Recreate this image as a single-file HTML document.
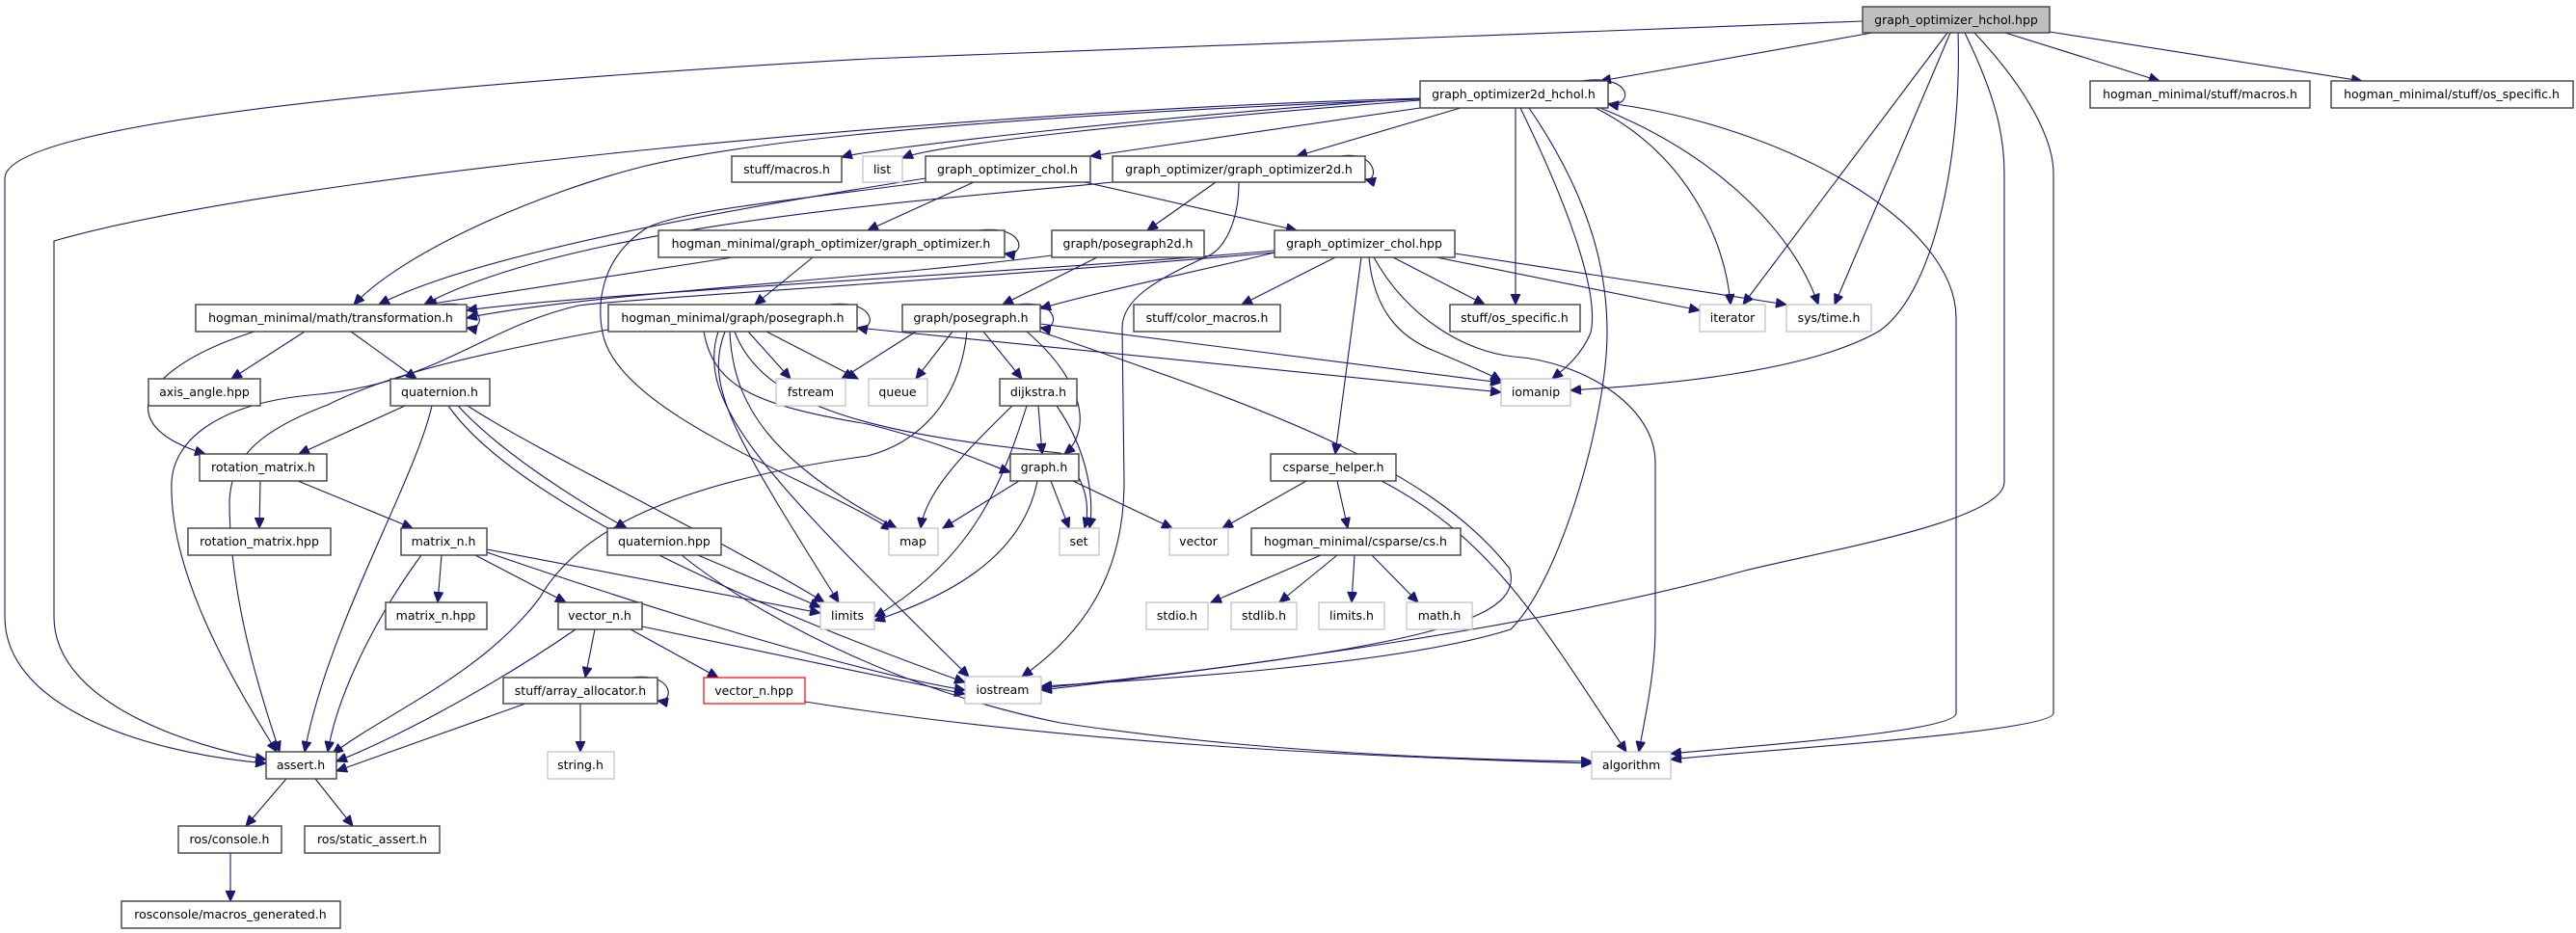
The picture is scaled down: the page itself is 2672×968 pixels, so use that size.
<!DOCTYPE html>
<html><head><meta charset="utf-8"><style>
html,body{margin:0;padding:0;background:#fff;}
svg{display:block}
text{font-family:"DejaVu Sans","Liberation Sans",sans-serif;font-size:12.5px;fill:#000}
.e{fill:none;stroke:#191970;stroke-width:1.1}
.n{fill:#fff;stroke:#404040;stroke-width:1.4}
.g{fill:#fff;stroke:#bfbfbf;stroke-width:1.2}
.r{fill:#fff;stroke:#ff0000;stroke-width:1.2}
</style></head><body>
<svg width="2672" height="968" viewBox="0 0 2672 968" xmlns="http://www.w3.org/2000/svg">
<defs><marker id="a" markerUnits="userSpaceOnUse" markerWidth="12" markerHeight="10" refX="11" refY="5" orient="auto"><path d="M0,0 L11,5 L0,10 z" fill="#191970" stroke="#191970"/></marker></defs>
<g class="e" marker-end="url(#a)">
<!-- hchol.hpp -->
<path d="M1932,22 L900,61 C400,90 5,130 5,185 L5,640 C5,730 140,780 276,792"/>
<path d="M1942,34 L1660,84"/>
<path d="M2080,34 L2240,84"/>
<path d="M2126,33 L2450,84"/>
<path d="M2020,34 L1808,316"/>
<path d="M2023,34 L1903,316"/>
<path d="M2031,34 C2035,150 2010,300 1950,343 C1870,390 1700,400 1629,405"/>
<path d="M2038,34 C2070,100 2079,140 2079,180 L2079,500 C2079,540 1900,570 1810,592 C1600,650 1300,690 1080,716"/>
<path d="M2048,34 C2110,100 2130,150 2130,180 L2130,740 C2130,760 1800,780 1733,788"/>
<!-- 2d_hchol -->
<path d="M1640,84 C1695,76 1695,112 1668,108"/>
<path d="M1473,102 C1200,120 900,155 873,163"/>
<path d="M1473,104 C1200,125 970,150 936,164"/>
<path d="M1473,112 L1131,162"/>
<path d="M1515,112 L1345,162"/>
<path d="M1473,103 C1100,118 800,140 666,173 C560,200 420,260 367,316"/>
<path d="M1473,102 C1000,115 300,180 56,250 L56,640 C56,730 200,775 276,788"/>
<path d="M1572,112 L1572,316"/>
<path d="M1655,112 C1750,160 1790,250 1795,316"/>
<path d="M1660,112 C1780,160 1860,240 1886,316"/>
<path d="M1577,112 C1620,200 1660,300 1650,345 C1640,370 1620,385 1610,393"/>
<path d="M1586,112 C1660,220 1667,300 1667,345 C1667,430 1620,600 1567,653 C1450,690 1200,705 1080,712"/>
<path d="M1668,107 C1850,130 2029,230 2029,330 L2029,740 C2029,760 1800,775 1733,782"/>
<!-- chol.h -->
<path d="M1010,189 L900,239"/>
<path d="M1125,189 L1345,239"/>
<path d="M960,185 C800,210 500,260 393,316"/>
<path d="M960,189 C800,210 700,220 670,237 C620,270 620,320 625,345 C640,430 850,500 925,550"/>
<!-- 2d.h -->
<path d="M1390,162 C1430,156 1430,190 1416,186"/>
<path d="M1261,189 L1190,239"/>
<path d="M1285,189 C1285,230 1270,260 1250,267 C1200,290 1164,310 1164,340 L1166,500 C1166,600 1120,660 1060,702"/>
<path d="M1154,189 C1000,205 600,230 440,316"/>
<!-- graph_optimizer.h -->
<path d="M1015,239 C1065,233 1065,267 1042,263"/>
<path d="M760,267 L442,316"/>
<path d="M843,267 L783,316"/>
<!-- posegraph2d -->
<path d="M1138,267 L1040,316"/>
<path d="M1091,265 C900,290 600,305 484,330"/>
<!-- chol.hpp -->
<path d="M1322,262 C1250,280 1150,300 1079,320"/>
<path d="M1322,260 C1100,280 600,305 484,322"/>
<path d="M1322,262 C1000,290 650,310 600,317 C500,340 450,400 321,410 C220,420 180,460 178,500 C175,600 250,720 287,780"/>
<path d="M1385,267 L1288,316"/>
<path d="M1445,267 L1540,316"/>
<path d="M1490,267 L1763,322"/>
<path d="M1509,263 L1853,316"/>
<path d="M1420,267 C1425,320 1450,350 1490,365 C1520,378 1545,388 1557,395"/>
<path d="M1412,267 L1385,471"/>
<path d="M1425,267 C1460,330 1520,365 1570,370 C1640,375 1717,420 1717,480 L1717,650 C1717,700 1705,750 1700,780"/>
<!-- hogman posegraph -->
<path d="M860,316 C910,310 910,344 889,340"/>
<path d="M776,344 L820,393"/>
<path d="M795,344 L890,393"/>
<path d="M631,342 C480,370 400,390 340,420 C260,450 240,480 238,520 C238,620 270,720 290,780"/>
<path d="M889,340 L1557,407"/>
<path d="M730,344 C740,400 780,420 900,440 C980,460 1020,480 1048,490"/>
<path d="M752,344 C730,400 760,450 870,625"/>
<path d="M757,344 C760,420 800,480 930,548"/>
<path d="M745,344 C720,420 800,500 1005,702"/>
<path d="M762,344 C790,420 900,450 1100,470 C1130,500 1130,530 1125,548"/>
<!-- graph/posegraph -->
<path d="M1055,316 C1100,310 1100,344 1079,340"/>
<path d="M950,344 L873,393"/>
<path d="M988,344 L950,393"/>
<path d="M1020,344 L1060,393"/>
<path d="M1065,344 C1130,400 1130,450 1104,471"/>
<path d="M1003,344 C995,420 950,460 900,473 C700,500 600,550 560,620 C500,700 400,740 345,782"/>
<path d="M1079,336 L1557,397"/>
<path d="M1079,344 C1300,420 1480,480 1566,590 C1580,640 1500,670 1080,714"/>
<!-- dijkstra -->
<path d="M1077,421 L1081,471"/>
<path d="M1050,421 C1000,470 960,510 955,548"/>
<path d="M1065,421 C1040,500 1010,580 907,640"/>
<path d="M1096,421 C1130,470 1135,520 1130,548"/>
<!-- graph.h -->
<path d="M1057,499 L978,548"/>
<path d="M1090,499 L1109,548"/>
<path d="M1113,499 L1216,548"/>
<path d="M1076,499 C1060,580 980,620 907,644"/>
<!-- csparse_helper -->
<path d="M1355,499 L1268,548"/>
<path d="M1387,499 L1398,548"/>
<path d="M1433,499 C1550,560 1600,650 1687,780"/>
<!-- cs.h -->
<path d="M1370,576 L1256,625"/>
<path d="M1387,576 L1327,625"/>
<path d="M1405,576 L1402,625"/>
<path d="M1423,576 L1471,625"/>
<!-- transformation -->
<path d="M455,316 C505,310 505,344 484,340"/>
<path d="M316,344 L240,393"/>
<path d="M364,344 L432,393"/>
<path d="M264,344 C150,380 110,440 213,471"/>
<!-- quaternion.h -->
<path d="M420,421 L310,471"/>
<path d="M448,421 C430,500 340,650 316,780"/>
<path d="M475,421 C520,470 600,520 650,548"/>
<path d="M485,421 C560,470 750,560 855,625"/>
<path d="M465,421 C520,500 700,600 1001,708"/>
<!-- rotation_matrix -->
<path d="M270,499 L269,548"/>
<path d="M309,499 L428,548"/>
<!-- matrix_n.h -->
<path d="M458,576 L454,625"/>
<path d="M493,576 L587,625"/>
<path d="M437,576 C390,640 350,720 340,780"/>
<path d="M505,570 L851,636"/>
<path d="M505,573 C700,640 900,700 1001,716"/>
<!-- vector_n.h -->
<path d="M617,653 L607,703"/>
<path d="M654,653 L745,703"/>
<path d="M597,653 C500,720 400,770 349,790"/>
<path d="M666,650 L1001,720"/>
<!-- array_allocator -->
<path d="M655,703 C700,697 700,730 682,727"/>
<path d="M602,730 L602,780"/>
<path d="M545,730 L349,800"/>
<!-- vector_n.hpp / quaternion.hpp -->
<path d="M835,728 C1100,770 1400,785 1651,792"/>
<path d="M724,576 L851,630"/>
<path d="M707,576 C800,650 950,720 1100,750 C1300,780 1500,788 1651,790"/>
<!-- assert / console -->
<path d="M297,808 L255,857"/>
<path d="M327,808 L366,857"/>
<path d="M239,885 L239,935"/>
</g>
<g>
<rect x="1932" y="7" width="194" height="27" fill="#bfbfbf" stroke="#404040" stroke-width="1.4"/><text x="2029" y="25" text-anchor="middle">graph_optimizer_hchol.hpp</text>
<rect class="n" x="1473" y="84" width="195" height="28"/><text x="1570" y="102" text-anchor="middle">graph_optimizer2d_hchol.h</text>
<rect class="n" x="2168" y="84" width="228" height="28"/><text x="2282" y="102" text-anchor="middle">hogman_minimal/stuff/macros.h</text>
<rect class="n" x="2418" y="84" width="251" height="28"/><text x="2543" y="102" text-anchor="middle">hogman_minimal/stuff/os_specific.h</text>
<rect class="n" x="759" y="162" width="114" height="27"/><text x="816" y="180" text-anchor="middle">stuff/macros.h</text>
<rect class="g" x="895" y="162" width="41" height="27"/><text x="915" y="180" text-anchor="middle">list</text>
<rect class="n" x="960" y="162" width="171" height="27"/><text x="1045" y="180" text-anchor="middle">graph_optimizer_chol.h</text>
<rect class="n" x="1154" y="162" width="262" height="27"/><text x="1285" y="180" text-anchor="middle">graph_optimizer/graph_optimizer2d.h</text>
<rect class="n" x="683" y="239" width="359" height="28"/><text x="862" y="257" text-anchor="middle">hogman_minimal/graph_optimizer/graph_optimizer.h</text>
<rect class="n" x="1091" y="239" width="158" height="28"/><text x="1170" y="257" text-anchor="middle">graph/posegraph2d.h</text>
<rect class="n" x="1322" y="239" width="187" height="28"/><text x="1415" y="257" text-anchor="middle">graph_optimizer_chol.hpp</text>
<rect class="n" x="203" y="316" width="281" height="28"/><text x="343" y="334" text-anchor="middle">hogman_minimal/math/transformation.h</text>
<rect class="n" x="631" y="316" width="258" height="28"/><text x="760" y="334" text-anchor="middle">hogman_minimal/graph/posegraph.h</text>
<rect class="n" x="936" y="316" width="143" height="28"/><text x="1007" y="334" text-anchor="middle">graph/posegraph.h</text>
<rect class="n" x="1176" y="316" width="152" height="28"/><text x="1252" y="334" text-anchor="middle">stuff/color_macros.h</text>
<rect class="n" x="1504" y="316" width="135" height="28"/><text x="1571" y="334" text-anchor="middle">stuff/os_specific.h</text>
<rect class="g" x="1763" y="316" width="68" height="28"/><text x="1797" y="334" text-anchor="middle">iterator</text>
<rect class="g" x="1853" y="316" width="88" height="28"/><text x="1897" y="334" text-anchor="middle">sys/time.h</text>
<rect class="n" x="154" y="393" width="116" height="28"/><text x="212" y="411" text-anchor="middle">axis_angle.hpp</text>
<rect class="n" x="405" y="393" width="103" height="28"/><text x="456" y="411" text-anchor="middle">quaternion.h</text>
<rect class="g" x="805" y="393" width="72" height="28"/><text x="841" y="411" text-anchor="middle">fstream</text>
<rect class="g" x="901" y="393" width="61" height="28"/><text x="931" y="411" text-anchor="middle">queue</text>
<rect class="n" x="1037" y="393" width="80" height="28"/><text x="1077" y="411" text-anchor="middle">dijkstra.h</text>
<rect class="g" x="1557" y="393" width="72" height="28"/><text x="1593" y="411" text-anchor="middle">iomanip</text>
<rect class="n" x="207" y="471" width="132" height="28"/><text x="273" y="489" text-anchor="middle">rotation_matrix.h</text>
<rect class="n" x="1048" y="471" width="71" height="28"/><text x="1083" y="489" text-anchor="middle">graph.h</text>
<rect class="n" x="1318" y="471" width="130" height="28"/><text x="1383" y="489" text-anchor="middle">csparse_helper.h</text>
<rect class="n" x="195" y="548" width="148" height="28"/><text x="269" y="566" text-anchor="middle">rotation_matrix.hpp</text>
<rect class="n" x="416" y="548" width="89" height="28"/><text x="460" y="566" text-anchor="middle">matrix_n.h</text>
<rect class="n" x="630" y="548" width="118" height="28"/><text x="689" y="566" text-anchor="middle">quaternion.hpp</text>
<rect class="g" x="922" y="548" width="51" height="28"/><text x="947" y="566" text-anchor="middle">map</text>
<rect class="g" x="1099" y="548" width="41" height="28"/><text x="1119" y="566" text-anchor="middle">set</text>
<rect class="g" x="1213" y="548" width="61" height="28"/><text x="1243" y="566" text-anchor="middle">vector</text>
<rect class="n" x="1298" y="548" width="217" height="28"/><text x="1406" y="566" text-anchor="middle">hogman_minimal/csparse/cs.h</text>
<rect class="n" x="400" y="625" width="105" height="28"/><text x="452" y="643" text-anchor="middle">matrix_n.hpp</text>
<rect class="n" x="579" y="625" width="87" height="28"/><text x="622" y="643" text-anchor="middle">vector_n.h</text>
<rect class="g" x="851" y="625" width="56" height="28"/><text x="879" y="643" text-anchor="middle">limits</text>
<rect class="g" x="1189" y="625" width="64" height="28"/><text x="1221" y="643" text-anchor="middle">stdio.h</text>
<rect class="g" x="1277" y="625" width="68" height="28"/><text x="1311" y="643" text-anchor="middle">stdlib.h</text>
<rect class="g" x="1368" y="625" width="68" height="28"/><text x="1402" y="643" text-anchor="middle">limits.h</text>
<rect class="g" x="1459" y="625" width="68" height="28"/><text x="1493" y="643" text-anchor="middle">math.h</text>
<rect class="n" x="522" y="703" width="160" height="27"/><text x="602" y="721" text-anchor="middle">stuff/array_allocator.h</text>
<rect class="r" x="730" y="703" width="105" height="27"/><text x="782" y="721" text-anchor="middle">vector_n.hpp</text>
<rect class="g" x="1001" y="702" width="79" height="28"/><text x="1040" y="720" text-anchor="middle">iostream</text>
<rect class="n" x="276" y="780" width="73" height="28"/><text x="312" y="798" text-anchor="middle">assert.h</text>
<rect class="g" x="568" y="780" width="69" height="28"/><text x="602" y="798" text-anchor="middle">string.h</text>
<rect class="g" x="1651" y="780" width="82" height="28"/><text x="1692" y="798" text-anchor="middle">algorithm</text>
<rect class="n" x="185" y="857" width="107" height="28"/><text x="238" y="875" text-anchor="middle">ros/console.h</text>
<rect class="n" x="316" y="857" width="140" height="28"/><text x="386" y="875" text-anchor="middle">ros/static_assert.h</text>
<rect class="n" x="126" y="935" width="227" height="28"/><text x="239" y="953" text-anchor="middle">rosconsole/macros_generated.h</text>
</g>
</svg>
</body></html>
